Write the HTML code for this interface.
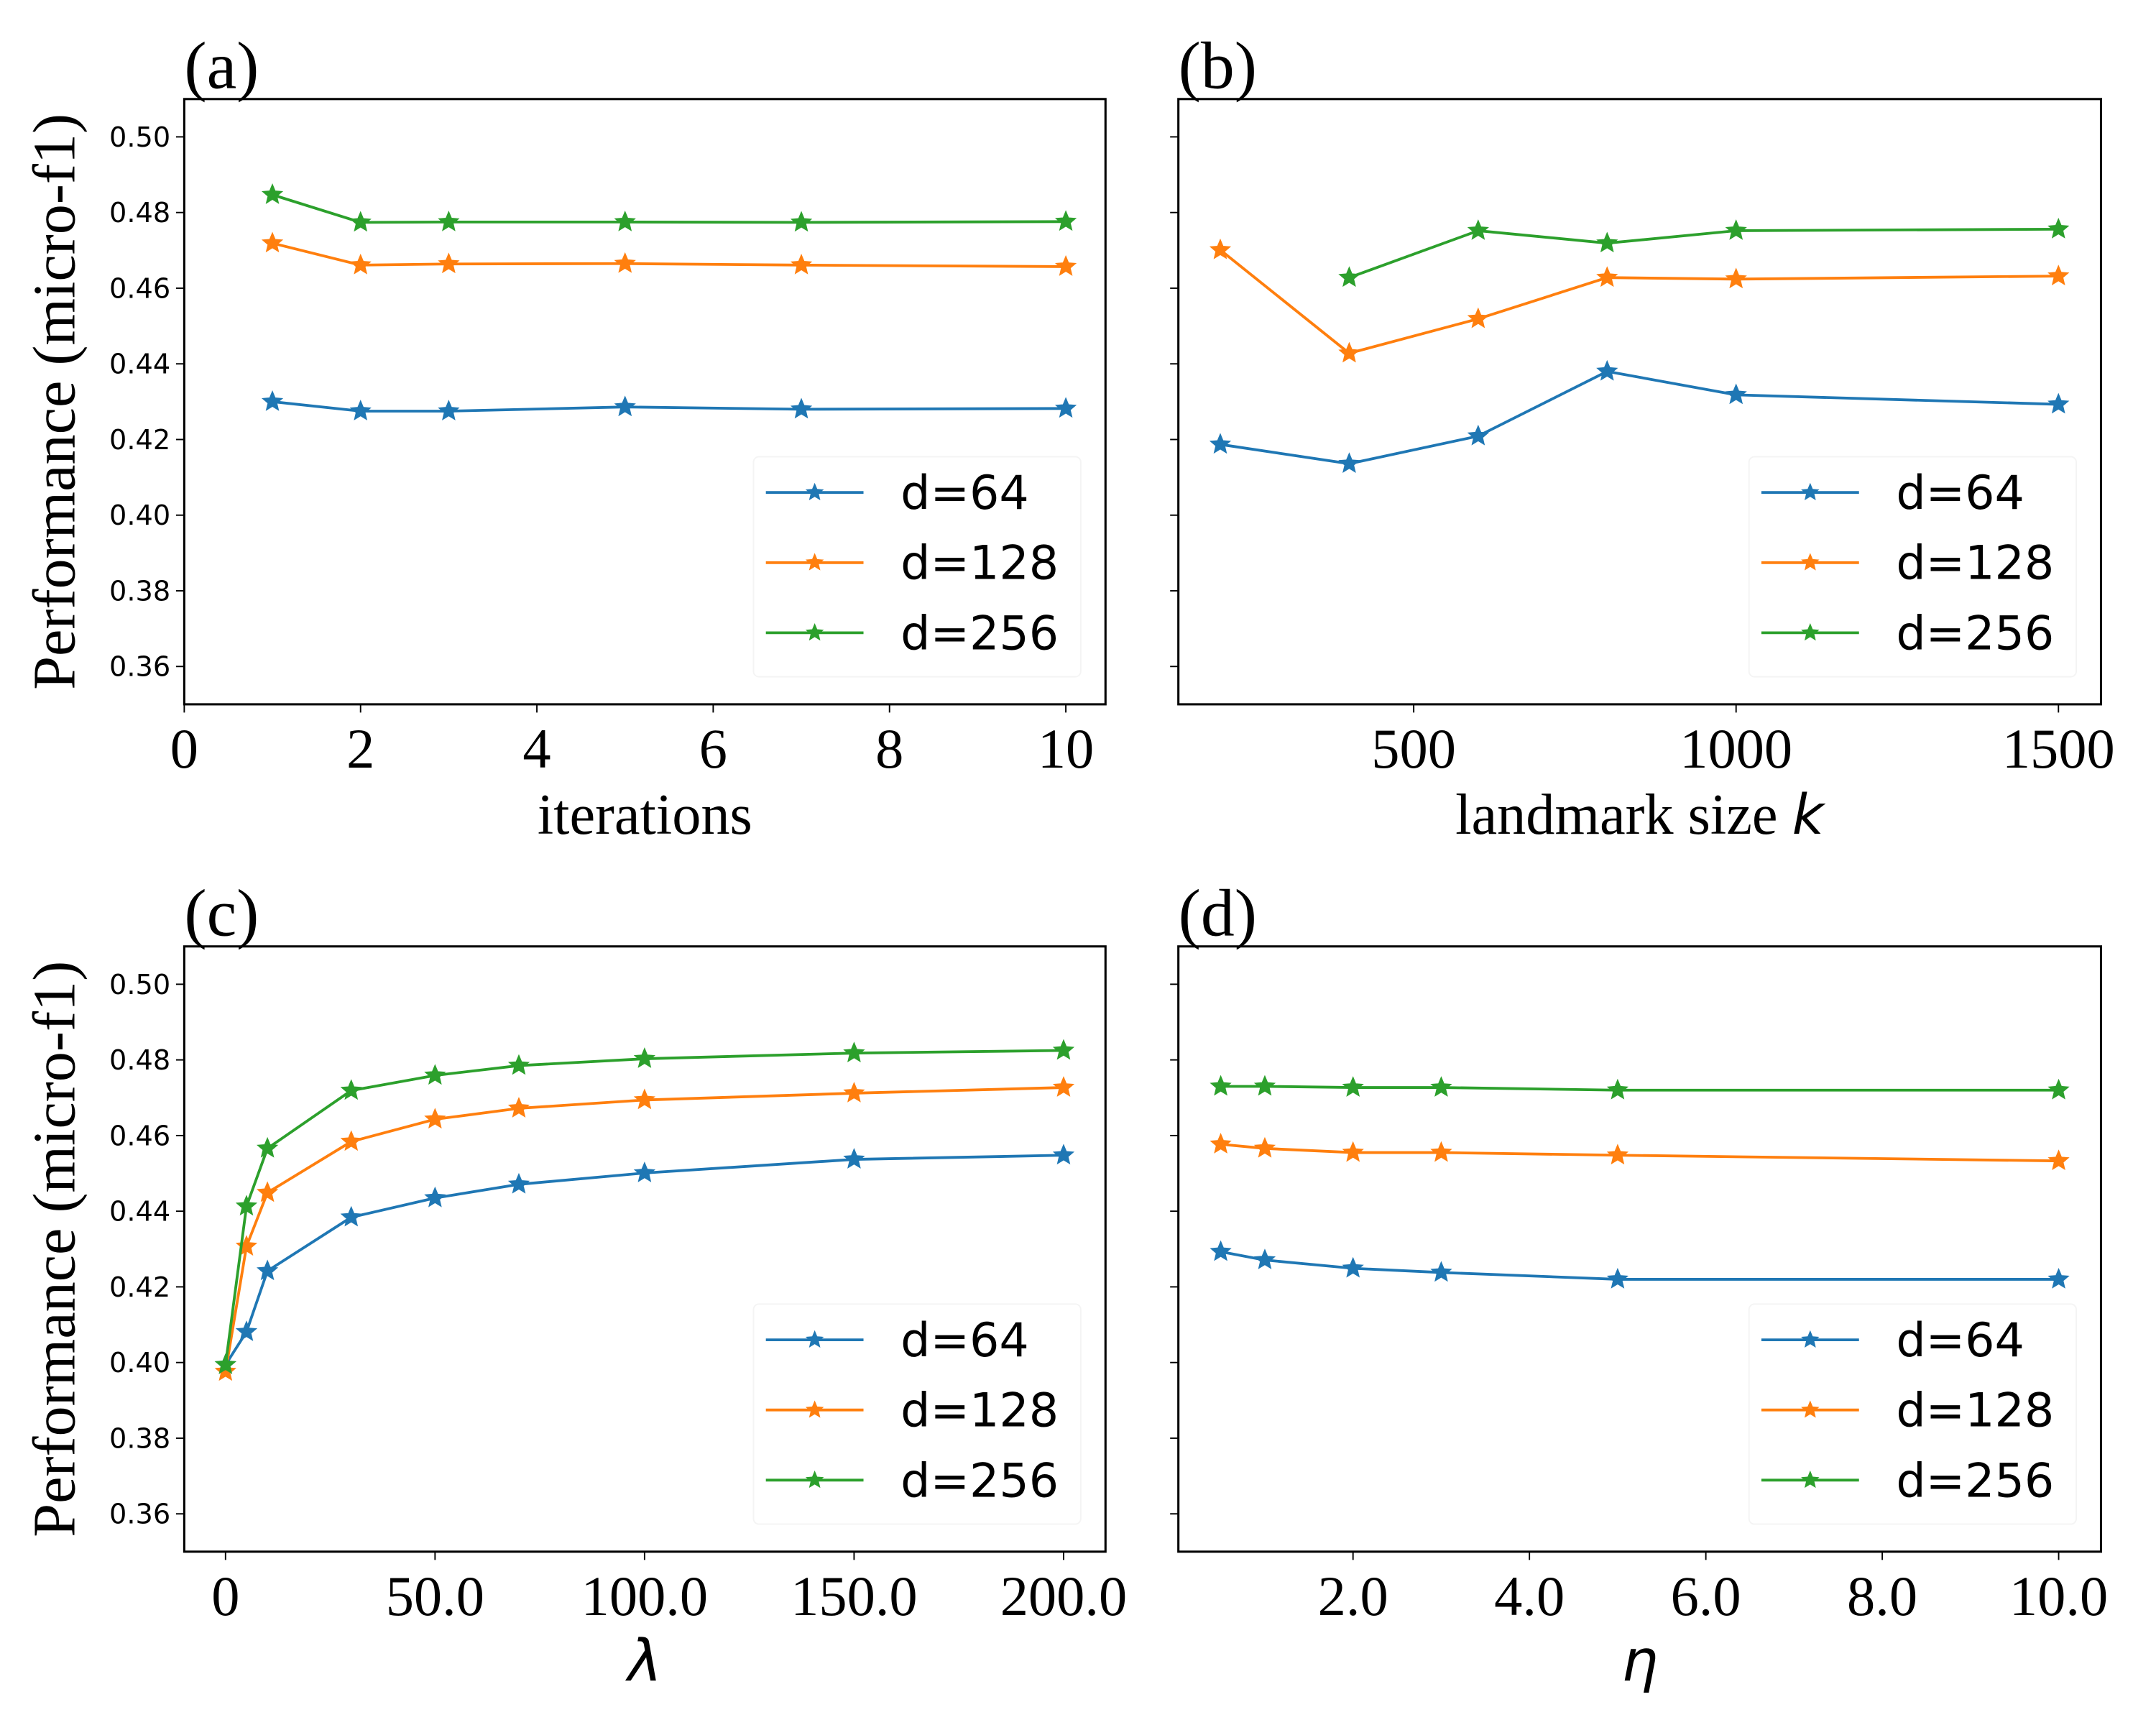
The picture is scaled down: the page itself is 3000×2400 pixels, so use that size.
<!DOCTYPE html>
<html><head><meta charset="utf-8"><style>html,body{margin:0;padding:0;background:#fff}svg{display:block}</style></head>
<body>
<svg id="fig" width="3000" height="2400" viewBox="0 0 1568 1254" preserveAspectRatio="none" xmlns="http://www.w3.org/2000/svg"></svg>
<script>
const seriesNames = ["d=64","d=128","d=256"];
const colors = ["#1f77b4","#ff7f0e","#2ca02c"];
const yTicks = [0.36,0.38,0.40,0.42,0.44,0.46,0.48,0.50];
const yTickLabels = ["0.36","0.38","0.40","0.42","0.44","0.46","0.48","0.50"];

const xA = [1,2,3,5,7,10];
const aBlue = [0.430,0.4275,0.4275,0.4286,0.428,0.4282];
const aOrange = [0.4719,0.4661,0.4664,0.4665,0.4661,0.4657];
const aGreen = [0.4847,0.4774,0.4775,0.4775,0.4774,0.4776];
const xTicksA = [0,2,4,6,8,10];
const xTickLabelsA = ["0","2","4","6","8","10"];

const xB = [200,400,600,800,1000,1500];
const xBGreen = [400,600,800,1000,1500];
const bBlue = [0.4187,0.4136,0.4209,0.4380,0.4318,0.4293];
const bOrange = [0.4701,0.4428,0.4519,0.4628,0.4624,0.4632];
const bGreen = [0.4628,0.4752,0.4719,0.4752,0.4756];
const xTicksB = [500,1000,1500];
const xTickLabelsB = ["500","1000","1500"];

const xC = [0,5,10,30,50,70,100,150,200];
const cBlue = [0.3994,0.4081,0.4242,0.4384,0.4435,0.4471,0.4501,0.4537,0.4548];
const cOrange = [0.3976,0.4307,0.4449,0.4584,0.4643,0.4672,0.4694,0.4712,0.4727];
const cGreen = [0.3994,0.4413,0.4566,0.4719,0.4759,0.4785,0.4803,0.4818,0.4825];
const xTicksC = [0,50,100,150,200];
const xTickLabelsC = ["0","50.0","100.0","150.0","200.0"];

const xD = [0.5,1,2,3,5,10];
const dBlue = [0.4293,0.4271,0.4249,0.4238,0.422,0.422];
const dOrange = [0.4577,0.4566,0.4555,0.4555,0.4548,0.4533];
const dGreen = [0.473,0.473,0.4727,0.4727,0.472,0.472];
const xTicksD = [2,4,6,8,10];
const xTickLabelsD = ["2.0","4.0","6.0","8.0","10.0"];

const NS="http://www.w3.org/2000/svg";
const svg=document.getElementById('fig');
function mk(tag,attrs,parent){const e=document.createElementNS(NS,tag);for(const k in attrs)e.setAttribute(k,attrs[k]);(parent||svg).appendChild(e);return e;}
function star(cx,cy,r){let p=[];for(let i=0;i<10;i++){const rr=i%2?r*0.45:r;const a=-Math.PI/2+i*Math.PI/5;p.push((cx+rr*Math.cos(a)).toFixed(2)+','+(cy+rr*Math.sin(a)).toFixed(2));}return p.join(' ');}

function panel(cfg){
  const g=mk('g',{});
  
  
  const L=cfg.L,R=cfg.R,T=cfg.T,B=cfg.B;
  const ymin=0.35,ymax=0.51;
  const sy=v=>B-(v-ymin)/(ymax-ymin)*(B-T);
  const sx=v=>L+(v-cfg.xmin)/(cfg.xmax-cfg.xmin)*(R-L);
  yTicks.forEach((t,i)=>{
    const tk=mk('line',{x1:L-6,x2:L,y1:sy(t),y2:sy(t),stroke:'#000','stroke-width':1},g);
    
    
    if(cfg.ylabels){
      const tx=mk('text',{x:L-10,y:sy(t)+7,'text-anchor':'end','font-family':'DejaVu Sans, sans-serif','font-size':20},g);
      
      
      tx.textContent=yTickLabels[i];
    }
  });
  cfg.xt.forEach((t,i)=>{
    const tk=mk('line',{x1:sx(t),x2:sx(t),y1:B,y2:B+6,stroke:'#000','stroke-width':1},g);
    
    
    const tx=mk('text',{x:sx(t),y:B+46,'text-anchor':'middle','font-family':'Liberation Serif, serif','font-size':41},g);
    
    
    tx.textContent=cfg.xtl[i];
  });
  cfg.series.forEach((s,si)=>{
    const pts=s.x.map((x,i)=>sx(x).toFixed(2)+','+sy(s.y[i]).toFixed(2)).join(' ');
    const pl=mk('polyline',{points:pts,fill:'none',stroke:colors[si],'stroke-width':2},g);
    
    
    s.x.forEach((x,i)=>{
      const m=mk('polygon',{points:star(sx(x),sy(s.y[i]),7),fill:colors[si],stroke:colors[si],'stroke-width':1},g);
      
      
    });
  });
  const fr=mk('rect',{x:L,y:T,width:R-L,height:B-T,fill:'none',stroke:'#000','stroke-width':1.6},g);
  
  
  const lg=mk('g',{},g);
  
  
  mk('rect',{x:R-256,y:B-180,width:238,height:160,rx:4,fill:'#fff',stroke:'#f4f4f4','stroke-width':1},lg);
  seriesNames.forEach((n,si)=>{
    const yy=B-154+si*51;
    const e=mk('g',{},lg);
    
    
    mk('line',{x1:R-247,x2:R-176,y1:yy,y2:yy,stroke:colors[si],'stroke-width':2},e);
    mk('polygon',{points:star(R-211.5,yy,7),fill:colors[si]},e);
    const t=mk('text',{x:R-149,y:yy+12,'font-family':'DejaVu Sans, sans-serif','font-size':34},e);
    t.textContent=n;
  });
  const pl=mk('text',{x:L,y:T-8,'font-family':'Liberation Serif, serif','font-size':49},g);
  
  
  pl.textContent='('+cfg.id+')';
  const xl=mk('text',{x:(L+R)/2,y:B+94,'text-anchor':'middle','font-family':cfg.xlItalic?'DejaVu Sans, sans-serif':'Liberation Serif, serif','font-size':cfg.xlItalic?42:42,'font-style':cfg.xlItalic?'italic':'normal'},g);
  
  
  if(cfg.id==='b'){xl.textContent='landmark size ';const ts=mk('tspan',{'font-family':'DejaVu Sans, sans-serif','font-style':'italic','font-size':40},xl);ts.textContent='k';}
  else xl.textContent=cfg.xl;
  if(cfg.ylabels){
    const yl=mk('text',{x:0,y:0,'text-anchor':'middle','font-family':'Liberation Serif, serif','font-size':44,transform:`translate(54,${(T+B)/2}) rotate(-90)`},g);
    
    
    yl.textContent='Performance (micro-f1)';
  }
}
panel({id:'a',L:134,R:804,T:72,B:512,xmin:0,xmax:10.45,xt:xTicksA,xtl:xTickLabelsA,ylabels:true,xl:'iterations',
  series:[{x:xA,y:aBlue},{x:xA,y:aOrange},{x:xA,y:aGreen}]});
panel({id:'b',L:857,R:1528,T:72,B:512,xmin:135,xmax:1566,xt:xTicksB,xtl:xTickLabelsB,ylabels:false,
  series:[{x:xB,y:bBlue},{x:xB,y:bOrange},{x:xBGreen,y:bGreen}]});
panel({id:'c',L:134,R:804,T:688,B:1128,xmin:-9.85,xmax:210,xt:xTicksC,xtl:xTickLabelsC,ylabels:true,xl:'λ',xlItalic:true,
  series:[{x:xC,y:cBlue},{x:xC,y:cOrange},{x:xC,y:cGreen}]});
panel({id:'d',L:857,R:1528,T:688,B:1128,xmin:0.02,xmax:10.48,xt:xTicksD,xtl:xTickLabelsD,ylabels:false,xl:'η',xlItalic:true,
  series:[{x:xD,y:dBlue},{x:xD,y:dOrange},{x:xD,y:dGreen}]});
</script>
</body></html>
